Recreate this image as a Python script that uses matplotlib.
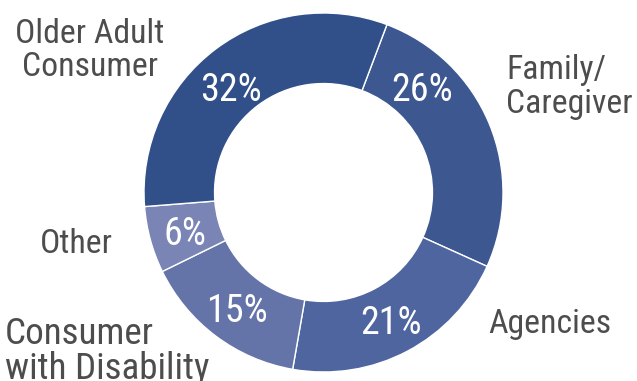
import matplotlib.pyplot as plt
import numpy as np
from matplotlib import font_manager
from matplotlib.textpath import TextPath

# data, clockwise from the Older Adult / Family boundary
categories = ['Family/\nCaregiver', 'Agencies', 'Consumer\nwith Disability', 'Other', 'Older Adult\nConsumer']
shares = [26, 21, 15, 6, 32]
colors = ['#3d5891', '#4f659f', '#6473a8', '#7a85b5', '#31508a']

# the reference uses a condensed sans (width/height of "Older Adult" ~ 149/26)
families = ('Noto Sans', 'DejaVu Sans', 'Roboto', 'Open Sans', 'Liberation Sans',
            'Liberation Sans Narrow', 'Roboto Condensed', 'Open Sans Condensed',
            'Noto Sans Display', 'Lato', 'Inter')
cands = {}
for f in font_manager.fontManager.ttflist:
    if f.name not in families or f.style != 'normal':
        continue
    if f.weight not in (400, 'normal', 'regular'):
        continue
    cands[f.fname] = f
cands = list(cands)[:40]
best, best_err = None, None
for fname in cands:
    try:
        prop = font_manager.FontProperties(fname=fname)
        ext = TextPath((0, 0), 'Older Adult', prop=prop, size=10).get_extents()
    except Exception:
        continue
    if ext.height <= 0:
        continue
    err = abs(ext.width / ext.height - 149 / 26)
    if best_err is None or err < best_err:
        best, best_err = fname, err
fp = font_manager.FontProperties(fname=best) if best else font_manager.FontProperties(family='Liberation Sans')

W, H = 637, 381
fig = plt.figure(figsize=(W / 100, H / 100), dpi=100)
renderer = fig.canvas.get_renderer()


def text_px(s, size):
    t = fig.text(0, 0, s, fontproperties=fp, fontsize=size)
    bb = t.get_window_extent(renderer)
    t.remove()
    return bb.width, bb.height


# fit font sizes to the widths seen in the reference
label_size = 26 * 149 / text_px('Older Adult', 26)[0]
pct_size = 25 * 62 / text_px('32%', 25)[0]

# square axes holding the donut (outer radius ~180 px)
ax = fig.add_axes([144 / W, 9 / H, 359 / W, 359 / H])

wedges, texts, autotexts = ax.pie(
    shares, colors=colors, startangle=69.3, counterclock=False,
    radius=1.0, autopct='%d%%', pctdistance=0.80,
    wedgeprops=dict(width=0.393, edgecolor='white', linewidth=1.0))
ax.set_xlim(-1, 1)
ax.set_ylim(-1, 1)
ax.axis('off')

for t in autotexts:
    t.set_fontproperties(fp)
    t.set_fontsize(pct_size)
    t.set_color('white')
    t.set_va('center_baseline')
# the 26% and 32% labels sit higher up in the ring
autotexts[0].set_position((0.549, 0.593))
autotexts[4].set_position((-0.515, 0.593))


def px(x, y):
    return x / W, 1 - y / H


label_color = '#4d4d4d'
# (x, baseline y of last line, ha, size factor, line gap px)
label_pos = [(506, 113, 'left', 1.0, 34), (488, 333, 'left', 1.0, 33),
             (5, 379, 'left', 1.1, 35), (76, 253, 'center', 1.0, 33),
             (90, 76, 'center', 1.0, 33)]
for name, (x, y, ha, k, gap) in zip(categories, label_pos):
    size = label_size * k
    fx, fy = px(x, y)
    fig.text(fx, fy, name, ha=ha, va='baseline', fontproperties=fp,
             fontsize=size, color=label_color,
             linespacing=gap / text_px('lp', size)[1],
             multialignment='center' if ha == 'center' else 'left')

fig.savefig('out.png', dpi=100)
